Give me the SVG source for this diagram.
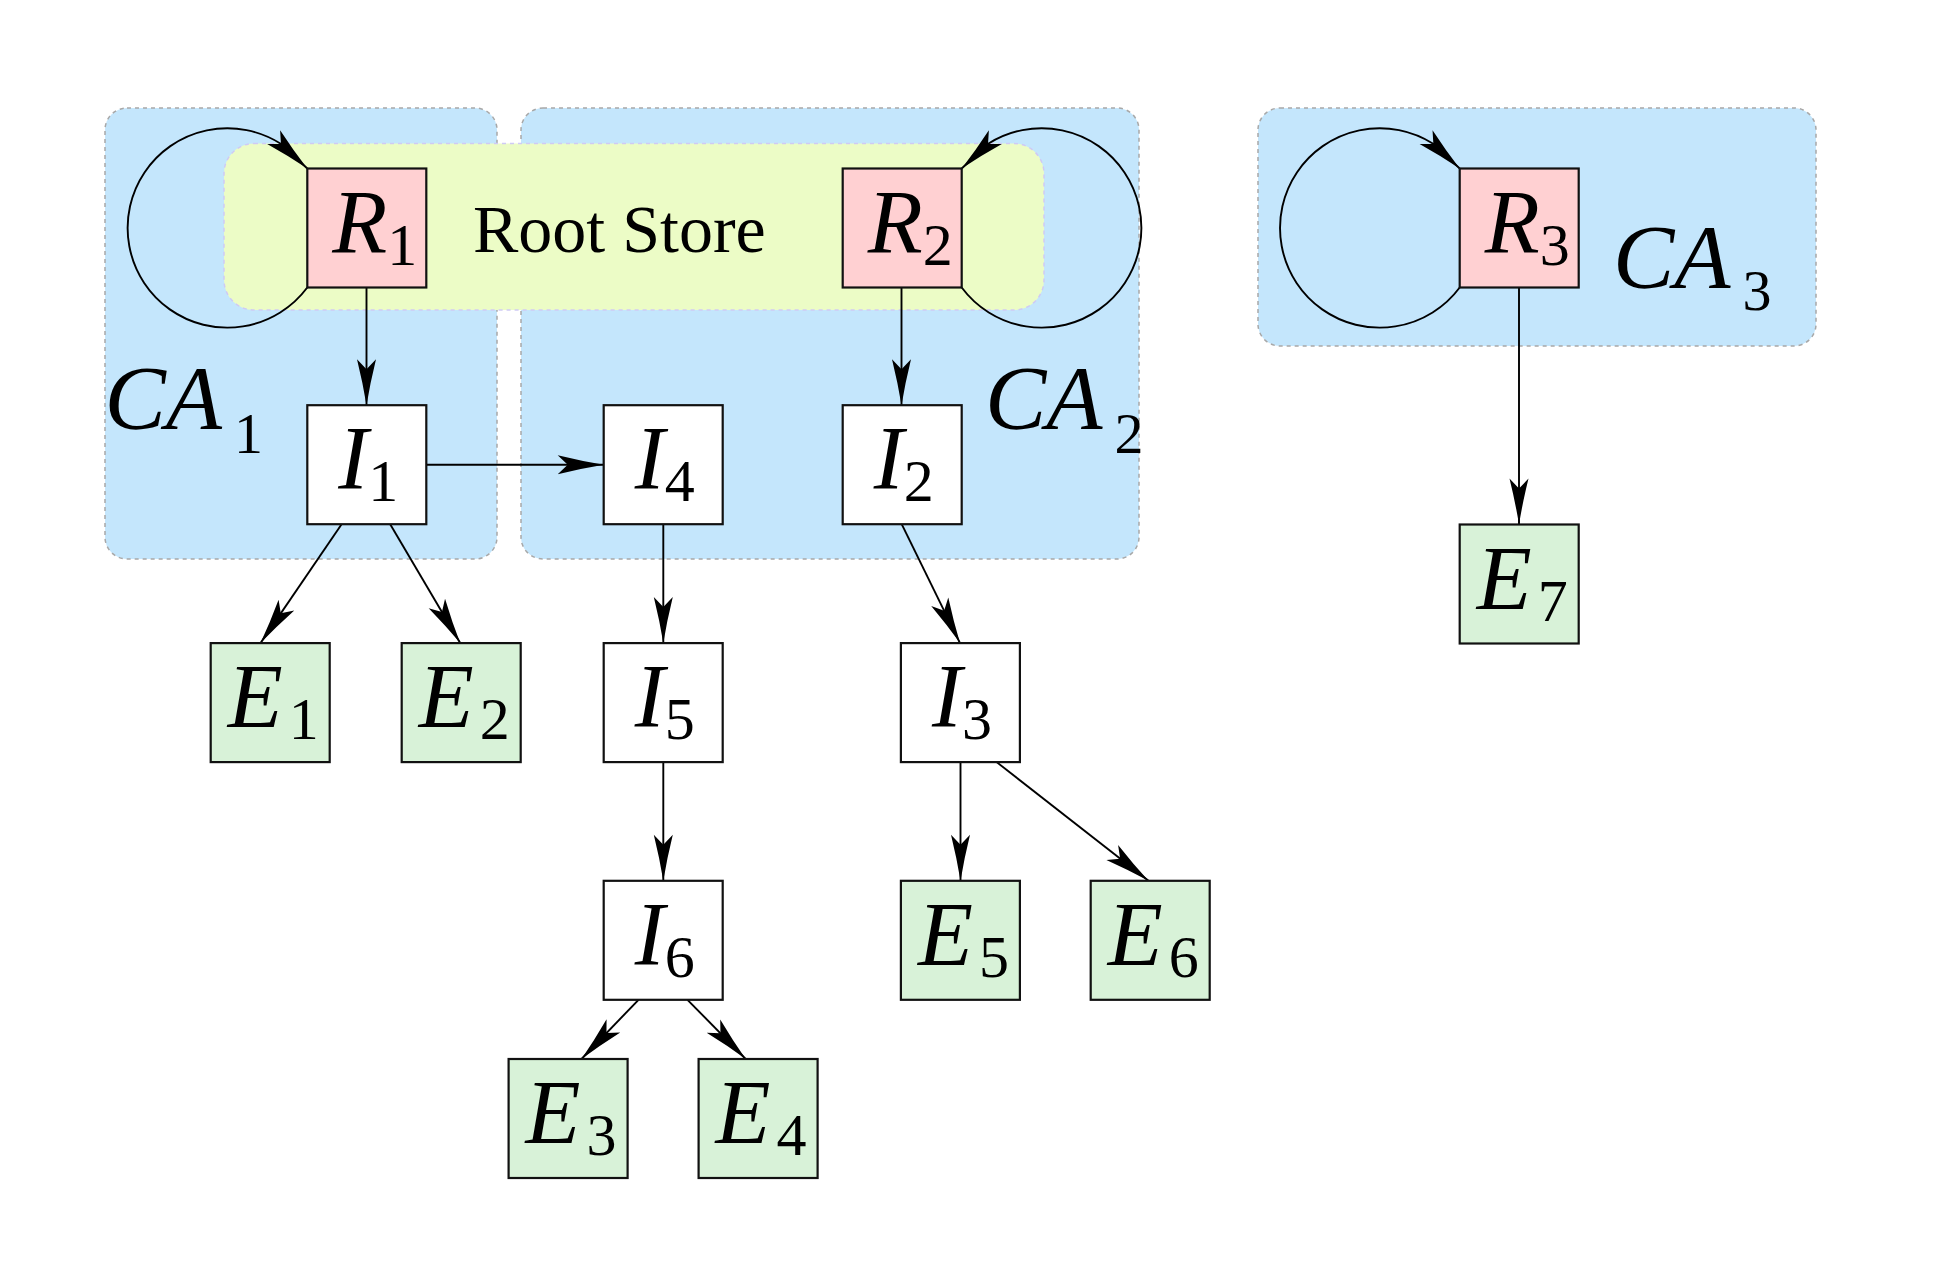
<svg xmlns="http://www.w3.org/2000/svg" width="1943" height="1265" viewBox="0 0 1943 1265">
<style>
.ca{fill:#c4e6fc;stroke:#a8a8a8;stroke-width:1.5;stroke-dasharray:4 4}
.store{fill:#ecfcc6;stroke:#cfcaf4;stroke-width:1.5;stroke-dasharray:4 4}
.box{stroke:#111;stroke-width:2.2}
.root{fill:#ffd0d2}
.inter{fill:#ffffff}
.ee{fill:#d8f2d8}
.edge{fill:none;stroke:#000;stroke-width:1.9;marker-end:url(#arr)}
.t{font-family:'Liberation Serif','Times New Roman',serif;fill:#000}
.lbl{font-size:90px}
.it{font-style:italic}
.sub{font-size:60px;font-style:normal}
.calbl{font-size:92px}
.casub{font-size:58px;font-style:normal}
.storelbl{font-size:68px}
</style>
<defs>
<marker id="arr" markerUnits="userSpaceOnUse" markerWidth="50" markerHeight="22" viewBox="-48 -11 50 22" refX="0" refY="0" orient="auto">
<path d="M0,0 Q-22,-3.6 -46,-9.5 L-36,0 L-46,9.5 Q-22,3.6 0,0 Z" fill="#000"/>
</marker>
</defs>
<rect width="1943" height="1265" fill="#ffffff"/>

<g id="CA1">
<rect class="ca" x="105" y="108" width="392" height="451" rx="22"/>
<text class="t calbl" x="104.5" y="429"><tspan class="it">CA</tspan><tspan class="casub" dx="12" dy="24">1</tspan></text>
</g>
<g id="CA2">
<rect class="ca" x="521" y="108" width="618" height="451" rx="22"/>
<text class="t calbl" x="985" y="429"><tspan class="it">CA</tspan><tspan class="casub" dx="12" dy="24">2</tspan></text>
</g>
<g id="CA3">
<rect class="ca" x="1258" y="108" width="558" height="238" rx="22"/>
<text class="t calbl" x="1613" y="287.5"><tspan class="it">CA</tspan><tspan class="casub" dx="12" dy="22">3</tspan></text>
</g>
<g id="RootStore">
<rect class="store" x="224" y="143.5" width="820" height="166.5" rx="30"/>
<text class="t storelbl" x="473" y="251.7">Root Store</text>
</g>

<g id="connectors">
<path class="edge" d="M307.3,287.5 A99.7,99.7 0 1 1 280.8,143.8 L307.3,168.5"/>
<path class="edge" d="M961.7,287.5 A99.7,99.7 0 1 0 988.2,143.8 L961.7,168.5"/>
<path class="edge" d="M1459.7,287.5 A99.7,99.7 0 1 1 1433.2,143.8 L1459.7,168.5"/>
<line class="edge" x1="366.5" y1="287.5" x2="366.5" y2="405.2"/>
<line class="edge" x1="901.5" y1="287.5" x2="901.5" y2="405.2"/>
<line class="edge" x1="1519" y1="287.5" x2="1519" y2="524.5"/>
<line class="edge" x1="426.3" y1="464.7" x2="603.7" y2="464.7"/>
<line class="edge" x1="341.6" y1="524.2" x2="260.5" y2="643.1"/>
<line class="edge" x1="390.2" y1="524.2" x2="460.2" y2="643.1"/>
<line class="edge" x1="663.3" y1="524.2" x2="663.3" y2="643.1"/>
<line class="edge" x1="663.3" y1="762.1" x2="663.3" y2="880.8"/>
<line class="edge" x1="638.5" y1="999.8" x2="581.5" y2="1059"/>
<line class="edge" x1="687.5" y1="999.8" x2="745.7" y2="1059"/>
<line class="edge" x1="901.7" y1="524.2" x2="960" y2="643.1"/>
<line class="edge" x1="960.5" y1="762.1" x2="960.5" y2="880.8"/>
<line class="edge" x1="996.6" y1="762.1" x2="1148.5" y2="880.8"/>
</g>

<g id="R1"><rect class="box root" x="307.3" y="168.5" width="119" height="119"/>
<text class="t lbl" x="332.3" y="252.5"><tspan class="it">R</tspan><tspan class="sub" dy="12">1</tspan></text></g>
<g id="R2"><rect class="box root" x="842.7" y="168.5" width="119" height="119"/>
<text class="t lbl" x="867.7" y="252.5"><tspan class="it">R</tspan><tspan class="sub" dy="12">2</tspan></text></g>
<g id="R3"><rect class="box root" x="1459.7" y="168.5" width="119" height="119"/>
<text class="t lbl" x="1484.7" y="252.5"><tspan class="it">R</tspan><tspan class="sub" dy="12">3</tspan></text></g>

<g id="I1"><rect class="box inter" x="307.3" y="405.2" width="119" height="119"/>
<text class="t lbl" x="338.3" y="489.2"><tspan class="it">I</tspan><tspan class="sub" dy="12">1</tspan></text></g>
<g id="I4"><rect class="box inter" x="603.7" y="405.2" width="119" height="119"/>
<text class="t lbl" x="634.7" y="489.2"><tspan class="it">I</tspan><tspan class="sub" dy="12">4</tspan></text></g>
<g id="I2"><rect class="box inter" x="842.7" y="405.2" width="119" height="119"/>
<text class="t lbl" x="873.7" y="489.2"><tspan class="it">I</tspan><tspan class="sub" dy="12">2</tspan></text></g>
<g id="I5"><rect class="box inter" x="603.7" y="643.1" width="119" height="119"/>
<text class="t lbl" x="634.7" y="727.1"><tspan class="it">I</tspan><tspan class="sub" dy="12">5</tspan></text></g>
<g id="I3"><rect class="box inter" x="900.9" y="643.1" width="119" height="119"/>
<text class="t lbl" x="931.9" y="727.1"><tspan class="it">I</tspan><tspan class="sub" dy="12">3</tspan></text></g>
<g id="I6"><rect class="box inter" x="603.7" y="880.8" width="119" height="119"/>
<text class="t lbl" x="634.7" y="964.8"><tspan class="it">I</tspan><tspan class="sub" dy="12">6</tspan></text></g>

<g id="E7"><rect class="box ee" x="1459.7" y="524.5" width="119" height="119"/>
<text class="t lbl" x="1476.7" y="608.5"><tspan class="it">E</tspan><tspan class="sub" dx="6" dy="12">7</tspan></text></g>
<g id="E1"><rect class="box ee" x="210.7" y="643.1" width="119" height="119"/>
<text class="t lbl" x="227.7" y="727.1"><tspan class="it">E</tspan><tspan class="sub" dx="6" dy="12">1</tspan></text></g>
<g id="E2"><rect class="box ee" x="401.7" y="643.1" width="119" height="119"/>
<text class="t lbl" x="418.7" y="727.1"><tspan class="it">E</tspan><tspan class="sub" dx="6" dy="12">2</tspan></text></g>
<g id="E5"><rect class="box ee" x="900.9" y="880.8" width="119" height="119"/>
<text class="t lbl" x="917.9" y="964.8"><tspan class="it">E</tspan><tspan class="sub" dx="6" dy="12">5</tspan></text></g>
<g id="E6"><rect class="box ee" x="1090.7" y="880.8" width="119" height="119"/>
<text class="t lbl" x="1107.7" y="964.8"><tspan class="it">E</tspan><tspan class="sub" dx="6" dy="12">6</tspan></text></g>
<g id="E3"><rect class="box ee" x="508.6" y="1059" width="119" height="119"/>
<text class="t lbl" x="525.6" y="1143"><tspan class="it">E</tspan><tspan class="sub" dx="6" dy="12">3</tspan></text></g>
<g id="E4"><rect class="box ee" x="698.6" y="1059" width="119" height="119"/>
<text class="t lbl" x="715.6" y="1143"><tspan class="it">E</tspan><tspan class="sub" dx="6" dy="12">4</tspan></text></g>
</svg>
